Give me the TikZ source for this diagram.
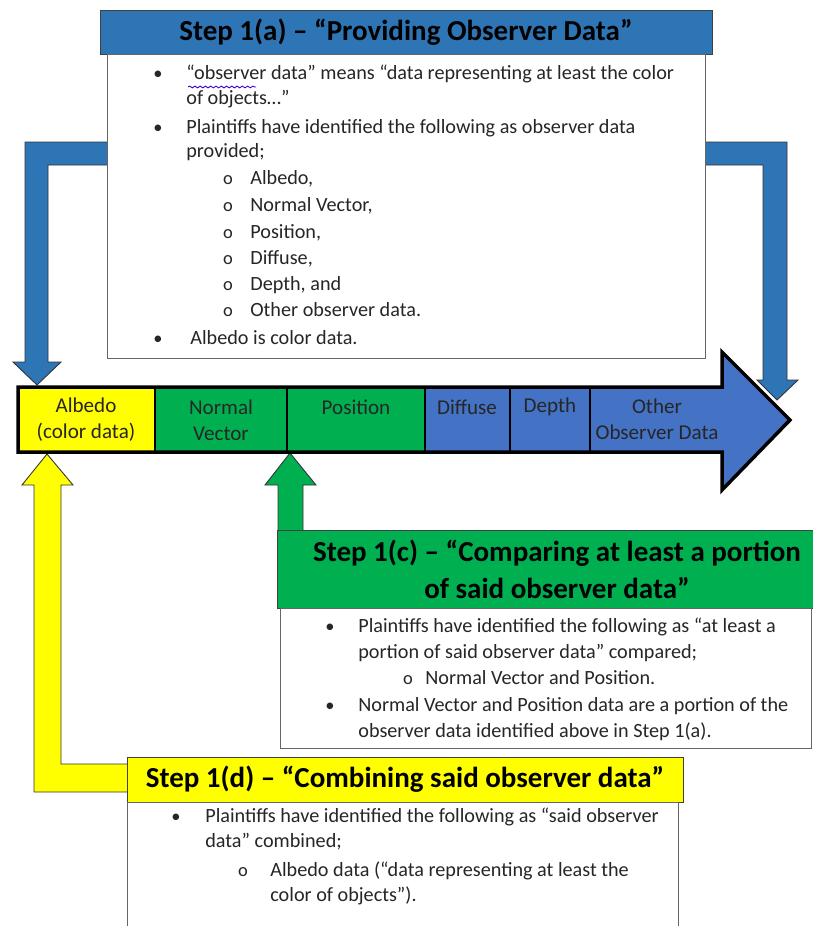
\documentclass[tikz,border=0pt]{standalone}
\usepackage{fontspec}
\setmainfont{Carlito}
\usetikzlibrary{positioning,decorations.pathmorphing}
\definecolor{hdrblue}{HTML}{2E75B6}
\definecolor{cellblue}{HTML}{4472C4}
\definecolor{stepgreen}{HTML}{00B050}
\definecolor{stepyellow}{HTML}{FFFF00}
\tikzset{
  hdr/.style={draw=black!75,inner sep=0pt,font=\bfseries\fontsize{16.5}{21}\selectfont,align=center},
  bodybox/.style={draw=black!60,fill=white,inner sep=0pt},
  ln/.style={anchor=mid west,inner sep=0pt,font=\fontsize{11.5}{13}\selectfont,text=black!85},
  dot/.style={inner sep=0pt,font=\fontsize{10.5}{13}\selectfont,text=black!85},
  cell/.style={inner sep=0pt,align=center,font=\fontsize{12}{14.8}\selectfont,text=black!85},
  blockarrow/.style={draw=black!80,line width=0.5pt}
}
\begin{document}
\begin{tikzpicture}[x=0.02cm,y=-0.02cm]
\useasboundingbox[fill=white] (0,0) rectangle (813,926);

% bent arrows from step 1(a)
\draw[blockarrow,fill=hdrblue] (107,142)--(25,142)--(25,362)--(13,362)--(37,385)--(61,362)--(48,362)--(48,165)--(107,165);
\draw[blockarrow,fill=hdrblue] (705,142)--(787,142)--(787,380)--(798,380)--(777,400)--(757,380)--(763,380)--(763,165)--(705,165);

% step 1(a)
\node[hdr,fill=hdrblue,minimum width=12.24cm,minimum height=0.88cm] (hA) at (406,32) {Step 1(a) – “Providing Observer Data”};
\node[bodybox,minimum width=11.96cm,minimum height=6.08cm,below=0pt of hA.south,anchor=north] (bA) {};
\node[dot] (a1d) at (158,75) {•};
\node[ln] (a1t) at (186,75) {“observer data” means “data representing at least the color};
\node[ln] (a2t) at (186,100) {of objects…”};
\node[dot] (a3d) at (158,129) {•};
\node[ln] (a3t) at (186,129) {Plaintiffs have identified the following as observer data};
\node[ln] (a4t) at (186,153) {provided;};
\node[dot] (a5d) at (228,180) {o};\node[ln] (a5t) at (250,180) {Albedo,};
\node[dot] (a6d) at (228,207) {o};\node[ln] (a6t) at (250,207) {Normal Vector,};
\node[dot] (a7d) at (228,234) {o};\node[ln] (a7t) at (250,234) {Position,};
\node[dot] (a8d) at (228,260) {o};\node[ln] (a8t) at (250,260) {Diffuse,};
\node[dot] (a9d) at (228,286) {o};\node[ln] (a9t) at (250,286) {Depth, and};
\node[dot] (a10d) at (228,312) {o};\node[ln] (a10t) at (250,312) {Other observer data.};
\node[dot] (a11d) at (158,340) {•};
\node[ln] (a11t) at (190,340) {Albedo is color data.};
\draw[blue!60!violet,line width=0.5pt,decorate,decoration={snake,segment length=3pt,amplitude=0.5pt}] (188,87)--(256,87);

% up arrows to the data bar
\draw[blockarrow,fill=stepyellow] (127,792)--(34,792)--(34,485)--(22,485)--(47,454)--(73,485)--(61,485)--(61,764)--(127,764);
\draw[blockarrow,fill=stepgreen] (278,531)--(278,485)--(265,485)--(290,453)--(316,485)--(303,485)--(303,531);

% observer data bar
\fill[cellblue] (18,387)--(722,387)--(722,352)--(790,420)--(722,490)--(722,452)--(18,452)--cycle;
\fill[stepyellow] (18,387) rectangle (155,452);
\fill[stepgreen] (155,387) rectangle (425,452);
\foreach \xx in {155,287,425,510,590} \draw[black,line width=0.6pt] (\xx,387)--(\xx,452);
\draw[black,line width=0.07cm,line join=miter] (18,387)--(722,387)--(722,352)--(790,420)--(722,490)--(722,452)--(18,452)--cycle;
\node[cell] (cAlb) at (86,420) {Albedo\\(color data)};
\node[cell] (cNor) at (221,420) {Normal\\Vector};
\node[cell] (cPos) at (356,407) {Position};
\node[cell] (cDif) at (467,407) {Diffuse};
\node[cell] (cDep) at (550,407) {Depth};
\node[cell] (cOth) at (657,419) {Other\\Observer Data};

% step 1(c)
\node[hdr,fill=stepgreen,minimum width=11.2cm,minimum height=1.56cm] (hC) at (557,569) {Step 1(c) – “Comparing at least a portion\\of said observer data”};
\node[bodybox,minimum width=10.62cm,minimum height=2.8cm,anchor=north west] (bC) at (280,608) {};
\node[dot] (c1d) at (330,628) {•};
\node[ln] (c1t) at (358,628) {Plaintiffs have identified the following as “at least a};
\node[ln] (c2t) at (358,654) {portion of said observer data” compared;};
\node[dot] (c3d) at (408,680) {o};\node[ln] (c3t) at (425,680) {Normal Vector and Position.};
\node[dot] (c4d) at (330,707) {•};
\node[ln] (c4t) at (358,707) {Normal Vector and Position data are a portion of the};
\node[ln] (c5t) at (358,733) {observer data identified above in Step 1(a).};

% step 1(d)
\node[hdr,fill=stepyellow,minimum width=11.12cm,minimum height=0.9cm] (hD) at (405,779.5) {Step 1(d) – “Combining said observer data”};
\node[bodybox,minimum width=11.02cm,minimum height=2.8cm,anchor=north west] (bD) at (127,802) {};
\node[dot] (d1d) at (176,818) {•};
\node[ln] (d1t) at (205,818) {Plaintiffs have identified the following as “said observer};
\node[ln] (d2t) at (205,843) {data” combined;};
\node[dot] (d3d) at (243,872) {o};\node[ln] (d3t) at (270,872) {Albedo data (“data representing at least the};
\node[ln] (d4t) at (270,897) {color of objects”).};
\end{tikzpicture}
\end{document}
